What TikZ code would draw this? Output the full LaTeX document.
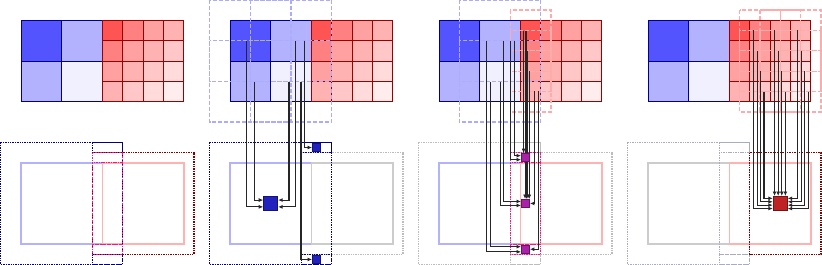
\documentclass[tikz,border=0pt]{standalone}
\usepackage{tikz}
\usetikzlibrary{arrows.meta,positioning,calc}
\definecolor{halomag}{RGB}{236,24,140}
\definecolor{halogray}{RGB}{188,188,188}
\definecolor{halobgray}{RGB}{170,170,192}
\definecolor{sqblue}{RGB}{34,34,190}
\definecolor{sqpurple}{RGB}{170,34,170}
\definecolor{sqred}{RGB}{190,34,34}
\pgfdeclarelayer{front}
\pgfsetlayers{main,front}

\begin{document}
\begin{tikzpicture}[x=20.35pt,y=-20.35pt,
  bcell/.style={draw=blue!55!black,line width=0.9pt},
  rcell/.style={draw=red!60!black,line width=0.9pt},
  bsten/.style={draw=blue!33,line width=1.3pt,dash pattern=on 4pt off 2pt},
  rsten/.style={draw=red!33,line width=1.3pt,dash pattern=on 4pt off 2pt},
  dom/.style={line width=1.5pt},
  halo/.style={line width=1.3pt,dash pattern=on 1.4pt off 1pt},
  feed/.style={draw=black!85,line width=1.1pt,-{Latex[length=4.5pt,width=4pt]}},
  cellsq/.style={draw,line width=0.9pt,inner sep=0pt,minimum size=#1}]
\useasboundingbox (-1.032,-0.998) rectangle ++(40.393,13.022);
% coarse and fine grids, same in every panel
\foreach \p in {0,...,3} {
  \begin{scope}[shift={(10.27*\p,0)}]
    \foreach \i/\j/\v in {0/0/67,1/0/30,0/1/30,1/1/6}
      \draw[bcell,fill=blue!\v] (2*\i,2*\j) rectangle ++(2,2);
    \foreach \i in {0,...,3}
      \foreach \j in {0,...,3} {
        \pgfmathtruncatemacro\v{{67,50,37,30,22,14,7}[\i+\j]}
        \draw[rcell,fill=red!\v] (4+\i,\j) rectangle ++(1,1);
      }
  \end{scope}
}
% panel 1: layout
\draw[dom,blue!30] (0,7) rectangle (4,11);
\draw[dom,red!30] (4,7) rectangle (8,11);
\draw[halo,blue!50!black] (-1,6) rectangle (5,12) (3.5,6) rectangle (5,6.5) (3.5,11.5) rectangle (5,12);
\draw[halo,red!50!black] (3.5,6.5) rectangle (8.5,11.5);
\draw[halo,halomag] (3.5,6.5) rectangle (5,7) (3.5,7) rectangle (5,11) (3.5,11) rectangle (5,11.5);
% panel 2: coarse level
\begin{scope}[shift={(10.27,0)}]
  \foreach \i in {0,1}
    \foreach \j in {0,1}
      \draw[bsten] (2*\i-1,2*\j-1) rectangle ++(4,4);
  \draw[dom,blue!30] (0,7) rectangle (4,11);
  \draw[dom,black!20] (4,7) rectangle (8,11);
  \draw[halo,halogray] (3.5,6.5) rectangle (8.5,11.5);
  \draw[halo,blue!50!black] (-1,6) rectangle (5,12) (3.5,6) rectangle (5,6.5) (3.5,11.5) rectangle (5,12);
  \begin{pgfonlayer}{front}
    \node[cellsq=14pt,fill=sqblue,draw=sqblue!60!black] (bmid) at (2,9) {};
    \node[cellsq=8pt,fill=sqblue,draw=sqblue!60!black] (btop) at (4.25,6.25) {};
    \node[cellsq=8pt,fill=sqblue,draw=sqblue!60!black] (bbot) at (4.25,11.75) {};
  \end{pgfonlayer}
  \foreach \n/\x/\y in {a/0.82/1,b/1.19/3.05,c/2.90/3.05,d/3.24/1,e/3.65/1,f/3.49/3.05}
    \coordinate (cs\n) at (\x,\y);
  \draw[feed] (csa) |- ([yshift=-3.4pt]bmid.west);
  \draw[feed] (csb) |- ([yshift=3.4pt]bmid.west);
  \draw[feed] (csc) |- ([yshift=3.4pt]bmid.east);
  \draw[feed] (csd) |- ([yshift=-3.4pt]bmid.east);
  \draw[feed] (cse) |- (btop.west);
  \draw[feed] (csf) |- (bbot.west);
\end{scope}
% panel 3: overlap strip
\begin{scope}[shift={(20.54,0)}]
  \foreach \j in {0,1}
    \draw[bsten] (1,2*\j-1) rectangle ++(4,4);
  \foreach \j in {0,...,3}
    \draw[rsten] (3.5,\j-0.5) rectangle ++(2,2);
  \draw[dom,blue!30] (0,7) rectangle (4,11);
  \draw[dom,red!30] (4,7) rectangle (8,11);
  \draw[halo,halogray] (-1,6) rectangle (5,12) (3.5,6) rectangle (5,6.5) (3.5,11.5) rectangle (5,12);
  \draw[halo,halogray] (3.5,6.5) rectangle (8.5,11.5);
  \draw[halo,halomag] (3.5,6.5) rectangle (5,7) (3.5,7) rectangle (5,11) (3.5,11) rectangle (5,11.5);
  \begin{pgfonlayer}{front}
    \foreach \n/\y in {ptop/6.75,pmid/9,pbot/11.25}
      \node[cellsq=8pt,fill=sqpurple,draw=sqpurple!60!black] (\n) at (4.25,\y) {};
  \end{pgfonlayer}
  \foreach \n/\x/\y in {a/2.34/1,b/2.54/3.02,c/3.03/3.02,d/3.19/1,e/3.52/1,f/3.69/1}
    \coordinate (ms\n) at (\x,\y);
  \foreach \n/\x/\y in {1/4.16/0.51,2/4.23/0.51,3/4.30/0.51,4/4.37/1.49,5/4.44/2.49,6/4.68/3.49,7/4.88/3.49}
    \coordinate (mr\n) at (\x,\y);
  \draw[feed] (msa) |- ([yshift=-2.6pt]pbot.west);
  \draw[feed] (msb) |- ([yshift=2.6pt]pbot.west);
  \draw[feed] (msc) |- ([yshift=-2pt]pmid.west);
  \draw[feed] (msd) |- ([yshift=2pt]pmid.west);
  \draw[feed] (mse) |- ([yshift=-2pt]ptop.west);
  \draw[feed] (msf) |- ([yshift=2pt]ptop.west);
  \draw[feed] (mr1) -- (mr1 |- ptop.north);
  \foreach \n in {2,...,5}
    \draw[feed] (mr\n) -- (mr\n |- pmid.north);
  \draw[feed] (mr6) |- (pmid.east);
  \draw[feed] (mr7) |- (pbot.east);
\end{scope}
% panel 4: fine level
\begin{scope}[shift={(30.81,0)}]
  \foreach \i in {0,1,2}
    \foreach \j in {0,...,3}
      \draw[rsten] (4.5+\i,\j-0.5) rectangle ++(2,2);
  \draw[dom,black!20] (0,7) rectangle (4,11);
  \draw[dom,red!30] (4,7) rectangle (8,11);
  \draw[halo,halobgray] (-1,6) rectangle (5,12) (3.5,6) rectangle (5,6.5) (3.5,6.5) rectangle (5,11.5) (3.5,11.5) rectangle (5,12);
  \draw[halo,red!50!black] (5,6.5) rectangle (8.5,11.5);
  \begin{pgfonlayer}{front}
    \node[cellsq=14pt,fill=sqred,draw=sqred!60!black] (rmid) at (6.5,9) {};
  \end{pgfonlayer}
  \foreach \r in {0,...,3} {
    \coordinate (fl\r) at (5.19+0.17*\r,0.5+\r);
    \coordinate (ft\r) at (6.22+0.177*\r,0.5+\r);
    \coordinate (fr\r) at (7.36+0.173*\r,0.5+\r);
    \draw[feed] (fl\r) |- ([yshift={(\r-1.5)*3.4pt}]rmid.west);
    \draw[feed] (ft\r) -- (ft\r |- rmid.north);
    \draw[feed] (fr\r) |- ([yshift={(1.5-\r)*3.4pt}]rmid.east);
  }
\end{scope}
\end{tikzpicture}
\end{document}
